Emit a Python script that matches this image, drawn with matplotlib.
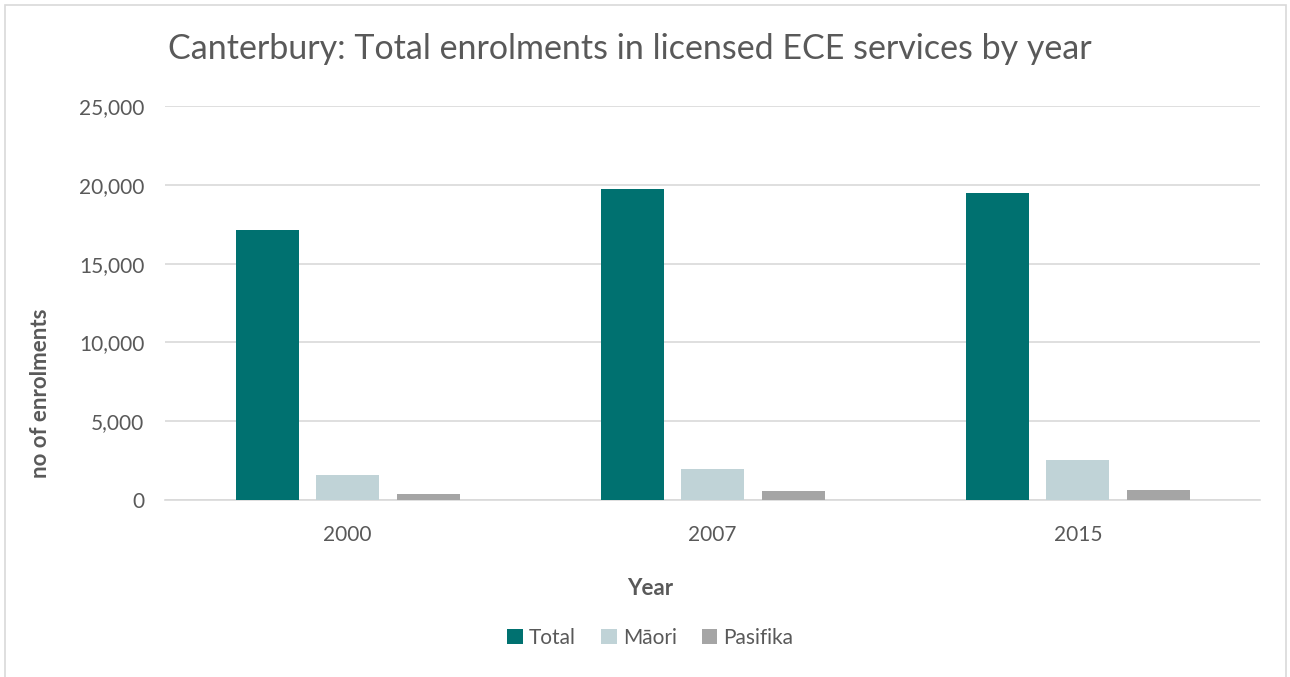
import numpy as np
import matplotlib.pyplot as plt
from matplotlib.patches import Rectangle
from matplotlib.ticker import FuncFormatter

plt.rcParams['font.family'] = ['Lato', 'DejaVu Sans']

years = ['2000', '2007', '2015']
total = [17150, 19760, 19490]
maori = [1580, 1940, 2530]
pasifika = [360, 570, 630]

series = [('Total', total, '#007170'),
          ('Māori', maori, '#C0D3D7'),
          ('Pasifika', pasifika, '#A5A5A5')]

text_grey = '#595959'

fig = plt.figure(figsize=(12.9, 6.77), dpi=100)
ax = fig.add_axes([0.128, 0.2614, 0.849, 0.582])

# chart frame
fig.patches.append(Rectangle((0.004, -0.01), 0.993, 1.003, transform=fig.transFigure,
                             fill=False, edgecolor='#D9D9D9', linewidth=1.2))

x = np.arange(len(years))
width = 0.173
offsets = [-0.2205, 0, 0.2205]
for (name, vals, color), off in zip(series, offsets):
    ax.bar(x + off, vals, width, color=color, label=name, zorder=3)

ax.set_xlim(-0.5, len(years) - 0.5)
ax.set_ylim(0, 25000)
ax.set_yticks(np.arange(0, 25001, 5000))
ax.yaxis.set_major_formatter(FuncFormatter(lambda v, p: f'{int(v):,}'))
ax.set_xticks(x)
ax.set_xticklabels(years)

ax.grid(axis='y', color='#D9D9D9', linewidth=1.2, zorder=0)
for s in ['top', 'right', 'left']:
    ax.spines[s].set_visible(False)
ax.spines['bottom'].set_color('#D9D9D9')
ax.spines['bottom'].set_linewidth(1.2)
ax.tick_params(length=0, labelsize=15, labelcolor=text_grey)
ax.tick_params(axis='y', pad=15)
ax.tick_params(axis='x', pad=18)

ax.set_ylabel('no of enrolments', fontsize=16, fontweight='bold', color=text_grey)
ax.yaxis.set_label_coords(-0.104, 0.27)
ax.set_xlabel('Year', fontsize=16, fontweight='bold', color=text_grey)
ax.xaxis.set_label_coords(0.443, -0.198)

fig.text(0.488, 0.927, 'Canterbury: Total enrolments in licensed ECE services by year',
         ha='center', va='center', fontsize=24.5, color=text_grey)

leg = ax.legend(loc='center', bbox_to_anchor=(0.443, -0.35), ncol=3, frameon=False,
                fontsize=15, handlelength=0.75, handleheight=0.75, handletextpad=0.3,
                columnspacing=1.2)
for t in leg.get_texts():
    t.set_color(text_grey)

fig.savefig('out.png', dpi=100)
